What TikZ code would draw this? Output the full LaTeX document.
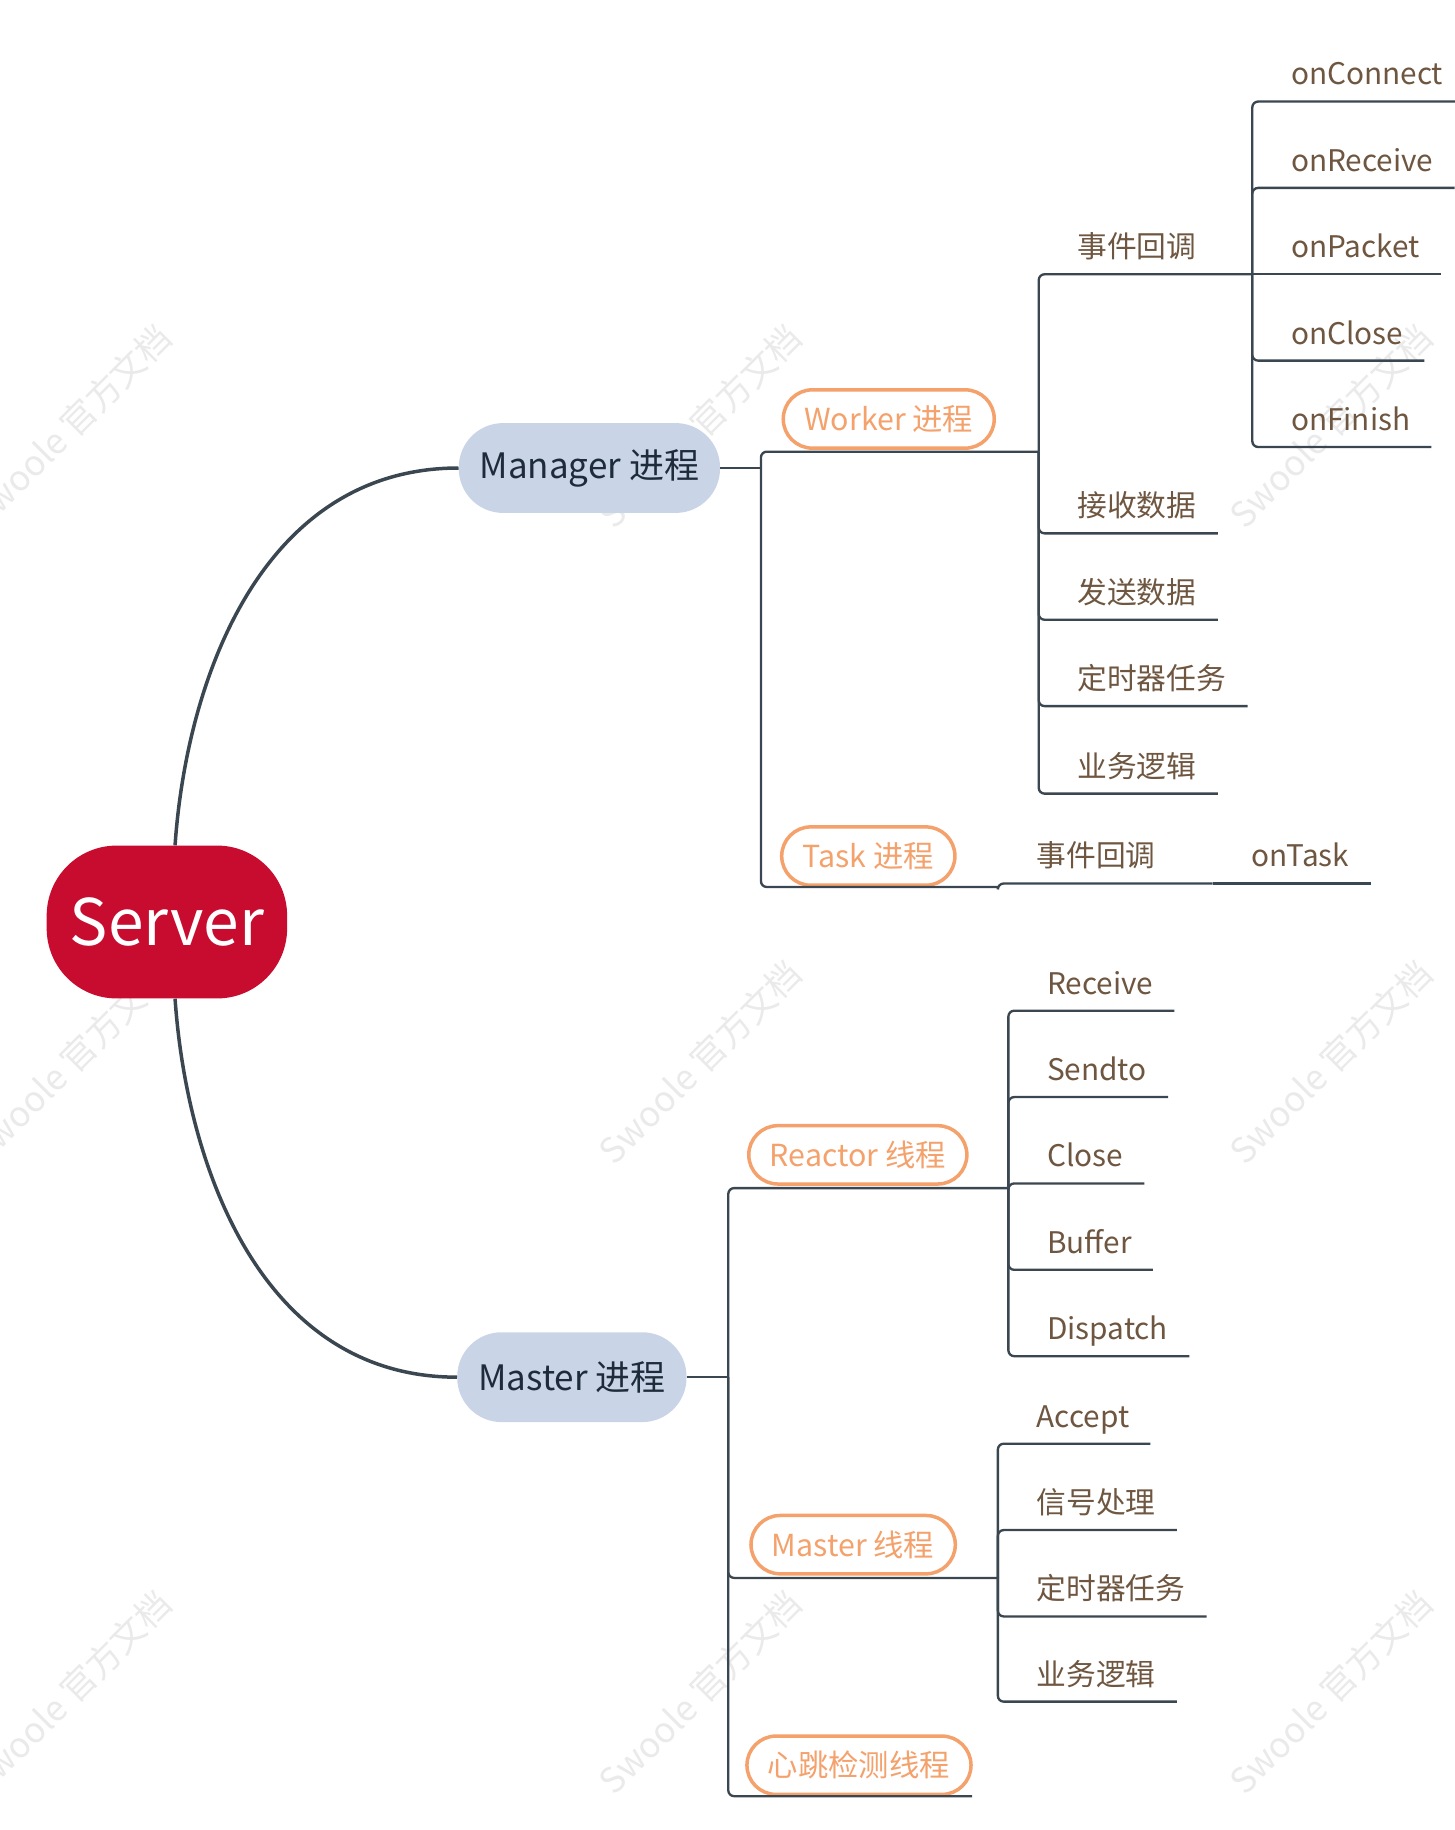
\documentclass[tikz,border=0pt]{standalone}
\usepackage{fontspec}
\setmainfont{Noto Sans CJK SC}
\usepackage{tikz}

\definecolor{serverred}{HTML}{C70C2F}
\definecolor{procfill}{HTML}{C9D5E7}
\definecolor{proctext}{HTML}{1E2B3A}
\definecolor{pillorange}{HTML}{F4A16C}
\definecolor{leafbrown}{HTML}{6E5640}
\definecolor{linegray}{HTML}{3B4750}
\definecolor{markgray}{HTML}{EAEAEA}

\tikzset{
  root/.style={fill=serverred, text=white, rounded corners=60pt, minimum width=206pt, minimum height=131pt, font=\fontsize{55}{62}\selectfont},
  proc/.style={fill=procfill, text=proctext, rounded corners=38pt, minimum height=77pt, inner xsep=18pt, font=\fontsize{30}{36}\selectfont},
  pill/.style={draw=pillorange, line width=3pt, fill=white, text=pillorange, rounded corners=25pt, minimum height=50pt, inner xsep=18pt, font=\fontsize{26}{30}\selectfont},
  leaf/.style={anchor=south west, text=leafbrown, inner xsep=18pt, inner ysep=8pt, text height=20pt, text depth=6pt, font=\fontsize{25.5}{30}\selectfont},
  branch/.style={draw=linegray, line width=2pt, rounded corners=5pt},
  trunk/.style={draw=linegray, line width=3pt},
  watermark/.style={text=markgray, rotate=45, font=\fontsize{30}{36}\selectfont}
}

\begin{document}
\begin{tikzpicture}[x=1pt, y=-1pt]
        \useasboundingbox (0,0) rectangle (1246,1568);
        % watermarks
        \node[watermark] (wm1) at (60,365) {Swoole 官方文档};
        \node[watermark] (wm2) at (600,365) {Swoole 官方文档};
        \node[watermark] (wm3) at (1140,365) {Swoole 官方文档};
        \node[watermark] (wm4) at (60,910) {Swoole 官方文档};
        \node[watermark] (wm5) at (600,910) {Swoole 官方文档};
        \node[watermark] (wm6) at (1140,910) {Swoole 官方文档};
        \node[watermark] (wm7) at (60,1450) {Swoole 官方文档};
        \node[watermark] (wm8) at (600,1450) {Swoole 官方文档};
        \node[watermark] (wm9) at (1140,1450) {Swoole 官方文档};
        % main topics
        \node[root] (server) at (143,790) {Server};
        \node[proc] (mgr) at (505,401) {Manager 进程};
        \node[proc] (mst) at (490,1180) {Master 进程};
        \draw[trunk] ([xshift=7pt]server.north) .. controls +(10,-145) and +(-167,0) .. (mgr.west);
        \draw[trunk] ([xshift=7pt]server.south) .. controls +(10,145) and +(-167,0) .. (mst.west);
        % manager side
        \coordinate (mgr-j) at (652,401);
        \coordinate (worker-j) at (890,387);
        \coordinate (task-j) at (855,760);
        \coordinate (evt-j) at (1073,235);
        \coordinate (taskev-j) at (1039,757);
        \node[pill] (worker) at (761.5,359) {Worker 进程};
        \node[pill] (task) at (744,733.5) {Task 进程};
        \node[leaf] (evt) at (905,235) {事件回调};
        \node[leaf] (recv) at (905,457) {接收数据};
        \node[leaf] (send) at (905,531) {发送数据};
        \node[leaf] (timer) at (905,605) {定时器任务};
        \node[leaf] (logic) at (905,680) {业务逻辑};
        \node[leaf] (onconnect) at (1088,87) {onConnect};
        \node[leaf] (onreceive) at (1088,161) {onReceive};
        \node[leaf] (onpacket) at (1088,235) {onPacket};
        \node[leaf] (onclose) at (1088,309) {onClose};
        \node[leaf] (onfinish) at (1088,383) {onFinish};
        \node[leaf] (taskev) at (870,757) {事件回调};
        \node[leaf] (ontask) at (1054,757) {onTask};
        \draw[branch] (mgr.east) -- (mgr-j);
        \draw[branch] (mgr-j) |- (worker-j);
        \draw[branch] (mgr-j) |- (task-j);
        \draw[branch] (worker-j) |- (evt-j);
        \draw[branch] (worker-j) |- (recv.south east);
        \draw[branch] (worker-j) |- (send.south east);
        \draw[branch] (worker-j) |- (timer.south east);
        \draw[branch] (worker-j) |- (logic.south east);
        \draw[branch] (evt-j) |- (onconnect.south east);
        \draw[branch] (evt-j) |- (onreceive.south east);
        \draw[branch] (evt-j) -- (onpacket.south east);
        \draw[branch] (evt-j) |- (onclose.south east);
        \draw[branch] (evt-j) |- (onfinish.south east);
        \draw[branch] (task-j) |- (taskev-j);
        \draw[branch] (taskev-j) -- (ontask.south east);
        % master side
        \coordinate (mst-j) at (624,1180);
        \coordinate (reactor-j) at (864,1018);
        \coordinate (mthread-j) at (855,1352);
        \coordinate (heart-j) at (833,1539);
        \node[pill] (reactor) at (735,989.5) {Reactor 线程};
        \node[pill] (mthread) at (731,1323.5) {Master 线程};
        \node[pill] (heart) at (736,1512.5) {心跳检测线程};
        \node[leaf] (receive) at (879,866) {Receive};
        \node[leaf] (sendto) at (879,940) {Sendto};
        \node[leaf] (close) at (879,1014) {Close};
        \node[leaf] (buffer) at (879,1088) {Buffer};
        \node[leaf] (dispatch) at (879,1162) {Dispatch};
        \node[leaf] (accept) at (870,1237) {Accept};
        \node[leaf] (signal) at (870,1311) {信号处理};
        \node[leaf] (mtimer) at (870,1385) {定时器任务};
        \node[leaf] (mlogic) at (870,1458) {业务逻辑};
        \draw[branch] (mst.east) -- (mst-j);
        \draw[branch] (mst-j) |- (reactor-j);
        \draw[branch] (mst-j) |- (mthread-j);
        \draw[branch] (mst-j) |- (heart-j);
        \draw[branch] (reactor-j) |- (receive.south east);
        \draw[branch] (reactor-j) |- (sendto.south east);
        \draw[branch] (reactor-j) |- (close.south east);
        \draw[branch] (reactor-j) |- (buffer.south east);
        \draw[branch] (reactor-j) |- (dispatch.south east);
        \draw[branch] (mthread-j) |- (accept.south east);
        \draw[branch] (mthread-j) |- (signal.south east);
        \draw[branch] (mthread-j) |- (mtimer.south east);
        \draw[branch] (mthread-j) |- (mlogic.south east);
\end{tikzpicture}
\end{document}
